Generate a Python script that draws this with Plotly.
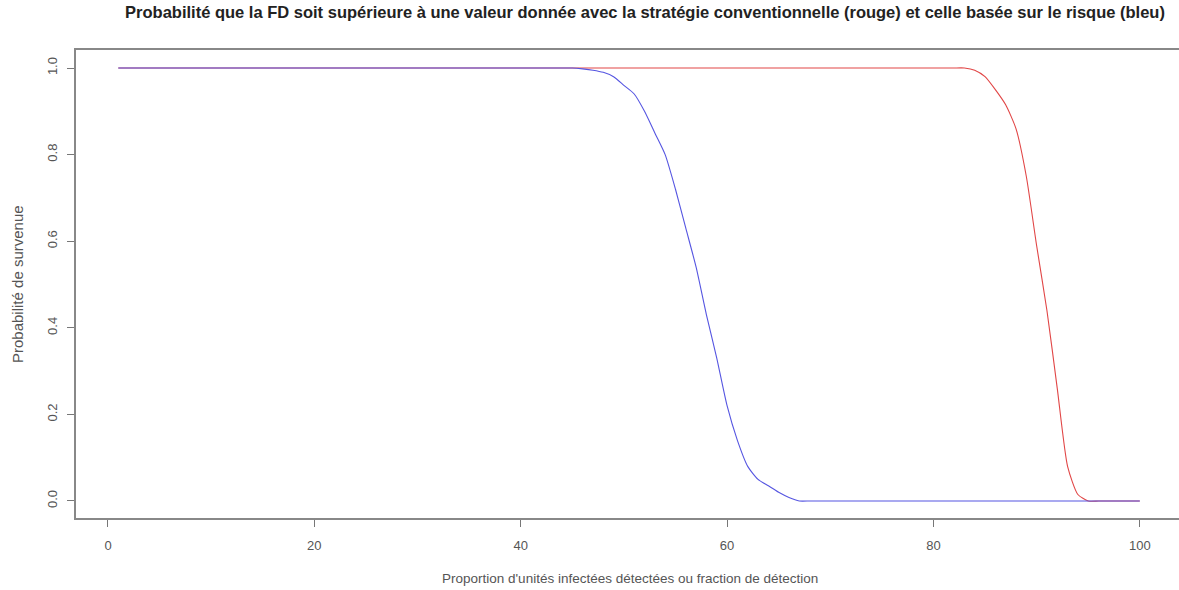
import plotly.graph_objects as go

# Data
x_vals = list(range(1, 101))

red_drop = {84: 0.995, 85: 0.98, 86: 0.95, 87: 0.915, 88: 0.86, 89: 0.75,
            90: 0.59, 91: 0.44, 92: 0.26, 93: 0.08, 94: 0.015, 95: 0.0}
blue_drop = {45: 1.0, 46: 0.998, 47: 0.995, 48: 0.99, 49: 0.98, 50: 0.96,
             51: 0.94, 52: 0.90, 53: 0.85, 54: 0.80, 55: 0.72, 56: 0.63,
             57: 0.54, 58: 0.43, 59: 0.33, 60: 0.22, 61: 0.14, 62: 0.08,
             63: 0.05, 64: 0.035, 65: 0.02, 66: 0.008, 67: 0.0}

red_conventionnelle = [1.0 if x < 84 else red_drop.get(x, 0.0) for x in x_vals]
blue_risque = [1.0 if x < 45 else blue_drop.get(x, 0.0) for x in x_vals]

x_ticks = [0, 20, 40, 60, 80, 100]
y_ticks = [0.0, 0.2, 0.4, 0.6, 0.8, 1.0]

title = ("Probabilité que la FD soit supérieure à une valeur donnée avec la stratégie "
         "conventionnelle (rouge) et celle basée sur le risque (bleu)")

fig = go.Figure()
fig.add_trace(go.Scatter(x=x_vals, y=red_conventionnelle, mode="lines",
                         line=dict(color="rgb(225,70,70)", width=1.1, shape="spline",
                                   smoothing=0.6),
                         showlegend=False, hoverinfo="skip"))
fig.add_trace(go.Scatter(x=x_vals, y=blue_risque, mode="lines",
                         line=dict(color="rgb(85,85,225)", width=1.1, shape="spline",
                                   smoothing=0.6),
                         showlegend=False, hoverinfo="skip"))

W, H = 1179, 590
L, R, T, B = 76, 0, 50, 72
pw, ph = W - L - R, H - T - B

fig.update_layout(
    width=W, height=H,
    margin=dict(l=L, r=R, t=T, b=B, pad=0),
    paper_bgcolor="white", plot_bgcolor="white",
    font=dict(family="Liberation Sans, Arial, sans-serif", color="#444", size=11),
    title=dict(text=title, x=645 / W, xanchor="center", xref="container",
               y=1 - 12 / H, yanchor="middle", yref="container",
               font=dict(size=16.5, color="#222", family="Liberation Sans, Arial, sans-serif",
                         weight="bold")),
    xaxis=dict(range=[-3.1, 103.8], tickvals=x_ticks, ticks="outside", ticklen=7,
               tickcolor="#777", showline=True, linecolor="#888", linewidth=1.5,
               mirror=True, showgrid=False, zeroline=False,
               ticklabelstandoff=8, tickfont=dict(size=13, color="#555")),
    yaxis=dict(range=[-0.0393, 1.0416], tickvals=y_ticks, tickformat=".1f",
               ticks="outside", ticklen=7, tickcolor="#777", showline=True,
               linecolor="#888", linewidth=1.5, showgrid=False, zeroline=False,
               tickangle=-90, ticklabelstandoff=5, tickfont=dict(size=13, color="#555")),
    annotations=[
        dict(text="Proportion d'unités infectées détectées ou fraction de détection",
             xref="paper", yref="paper", x=(630 - L) / pw,
             y=(518 - 578) / ph, xanchor="center", yanchor="middle", showarrow=False,
             font=dict(size=13.5, color="#555")),
        dict(text="Probabilité de survenue", xref="paper", yref="paper",
             x=(17 - L) / pw, y=(518 - 284) / ph, xanchor="center", yanchor="middle",
             textangle=-90, showarrow=False, font=dict(size=15, color="#555")),
    ],
)

fig.write_html("out.html")
